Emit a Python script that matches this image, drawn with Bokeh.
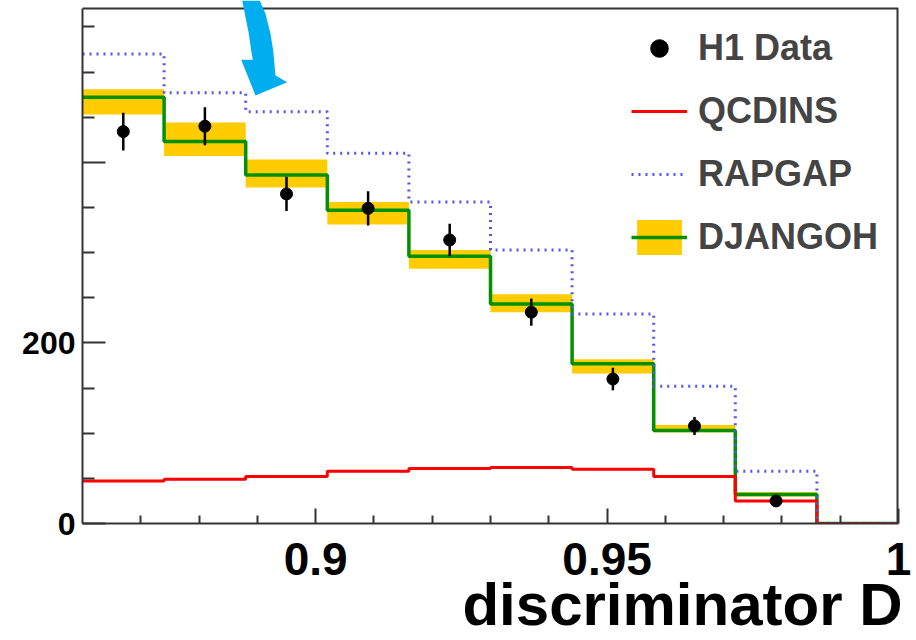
from bokeh.plotting import figure
from bokeh.models import FixedTicker, Legend, LegendItem, PolyAnnotation, Span, LinearAxis
from bokeh.embed import file_html
from bokeh.resources import INLINE

# ---------------- data ----------------
bin_edges = [0.860, 0.874, 0.888, 0.902, 0.916, 0.930, 0.944, 0.958, 0.972, 0.986, 1.000]
data_x = [0.867, 0.881, 0.895, 0.909, 0.923, 0.937, 0.951, 0.965, 0.979]
h1_data = [434, 440, 365, 349, 314, 234, 160, 108, 25]
h1_err = [21, 21, 19, 19, 18, 15, 12.5, 10, 5]
qcdins = [47, 49, 52, 58, 61, 62, 60, 52, 25, 0]
rapgap = [520, 477, 456, 410, 356, 303, 232, 152, 58, 0]
djangoh = [472, 423, 386, 347, 296, 243, 177, 103, 32, 0]
djangoh_up = [481, 444, 403, 356, 303, 254, 182, 109, 35, 0]
djangoh_lo = [453, 407, 372, 331, 282, 234, 166, 101, 30, 0]

x_major = [0.9, 0.95, 1.0]
x_minor = [0.87, 0.88, 0.89, 0.91, 0.92, 0.93, 0.94, 0.96, 0.97, 0.98, 0.99]
x_labels = {0.9: "0.9", 0.95: "0.95", 1.0: "1"}
y_major = [0, 200, 400]
y_minor = [50, 100, 150, 250, 300, 350, 450, 500, 550]
y_labels = {0: "0", 200: "200", 400: ""}
x_title = "discriminator D"

FONT = "Liberation Sans"
W, H = 916, 640
LEFT, RIGHT, BOTTOM = 82, 898, 523
BOX_TOP = 8                    # page pixel of the drawn top frame line
PX_PER_UNIT = 180.6 / 200


def px2x(px):
    return 0.86 + (px - LEFT) / ((RIGHT - LEFT) / 0.14)


def py2y(py):
    return (BOTTOM - py) / PX_PER_UNIT


p = figure(width=W, height=H, x_range=(0.86, 1.0), y_range=(0, py2y(0)),
           output_backend="svg", toolbar_location=None,
           min_border_left=LEFT, min_border_right=W - RIGHT, min_border_top=0,
           min_border_bottom=H - BOTTOM)
p.grid.visible = False
p.outline_line_color = None
p.background_fill_color = "white"
p.border_fill_color = "white"

# axes
for ax in (p.xaxis[0], p.yaxis[0]):
    ax.axis_line_color = "#333333"
    ax.axis_line_width = 2
    ax.major_tick_line_color = "#333333"
    ax.minor_tick_line_color = "#333333"
    ax.major_tick_line_width = 2
    ax.minor_tick_line_width = 2
    ax.major_tick_out = 0
    ax.minor_tick_out = 0
    ax.major_label_text_font = FONT
    ax.major_label_text_font_style = "bold"
    ax.major_label_text_color = "black"

p.xaxis.ticker = FixedTicker(ticks=x_major, minor_ticks=x_minor)
p.xaxis.major_label_overrides = x_labels
p.xaxis.major_tick_in = 15
p.xaxis.minor_tick_in = 8
p.xaxis.major_label_text_font_size = "46px"
p.xaxis.major_label_standoff = 19

p.yaxis.ticker = FixedTicker(ticks=y_major, minor_ticks=y_minor)
p.yaxis.major_label_overrides = y_labels
p.yaxis.major_tick_in = 23
p.yaxis.minor_tick_in = 12
p.yaxis.major_label_text_font_size = "32px"
p.yaxis.major_label_standoff = 7
p.yaxis.bounds = (0, py2y(BOX_TOP))

# x-axis title, right-aligned under the frame (second, tick-less axis row)
title_pos = px2x(682)
title_axis = LinearAxis(ticker=FixedTicker(ticks=[title_pos], minor_ticks=[]),
                        major_label_overrides={title_pos: x_title},
                        axis_line_color=None, major_tick_line_color=None,
                        minor_tick_line_color=None, major_tick_in=0, major_tick_out=0,
                        minor_tick_in=0, minor_tick_out=0,
                        major_label_standoff=-7,
                        major_label_text_font=FONT, major_label_text_font_style="bold",
                        major_label_text_font_size="60px", major_label_text_color="black")
p.add_layout(title_axis, "below")

# frame: top and right edges
p.add_layout(Span(location=py2y(BOX_TOP), dimension="width",
                  line_color="#333333", line_width=2))
p.segment(x0=[1.0], y0=[0], x1=[1.0], y1=[py2y(BOX_TOP)],
          line_color="#333333", line_width=4)

# DJANGOH uncertainty band
r_band = p.quad(left=bin_edges[:-1], right=bin_edges[1:], bottom=djangoh_lo, top=djangoh_up,
                fill_color="#FFCC00", line_alpha=0)
r_green = p.step(x=bin_edges, y=djangoh + [djangoh[-1]], mode="after",
                 line_color="#009000", line_width=3.5)
r_red = p.step(x=bin_edges, y=qcdins + [qcdins[-1]], mode="after",
               line_color="#FF0000", line_width=3)
r_blue = p.step(x=bin_edges, y=rapgap + [rapgap[-1]], mode="after",
                line_color="#5555EE", line_width=3, line_dash="2 5")

# H1 data
p.segment(x0=data_x, y0=[v - e for v, e in zip(h1_data, h1_err)],
          x1=data_x, y1=[v + e for v, e in zip(h1_data, h1_err)],
          line_color="black", line_width=2.5)
r_data = p.scatter(x=data_x, y=h1_data, size=12, fill_color="black", line_color="black")

# cyan arrow overlay (page pixels -> data space)
arrow_px = [(241.7, 0), (245, 16.7), (248.3, 33.3), (250.7, 50), (252.3, 59.3),
            (240.7, 59.3), (255, 95), (286.7, 81.7), (275, 75), (272.7, 50),
            (270, 33.3), (265, 13.3), (259.3, 0)]
p.add_layout(PolyAnnotation(xs=[px2x(a) for a, b in arrow_px],
                            ys=[py2y(b) for a, b in arrow_px],
                            fill_color="#00AEEF", fill_alpha=1.0, line_alpha=0,
                            level="overlay"))

legend = Legend(items=[
    LegendItem(label="H1 Data", renderers=[r_data]),
    LegendItem(label="QCDINS", renderers=[r_red]),
    LegendItem(label="RAPGAP", renderers=[r_blue]),
    LegendItem(label="DJANGOH", renderers=[r_band, r_green]),
], location=(549, 264), padding=0, margin=0, spacing=19,
   label_height=44, glyph_height=44, glyph_width=56, label_standoff=11,
   label_text_font=FONT, label_text_font_style="bold", label_text_font_size="36px",
   border_line_alpha=0, background_fill_alpha=0)
p.add_layout(legend)

open("out.html", "w").write(file_html(p, INLINE))
